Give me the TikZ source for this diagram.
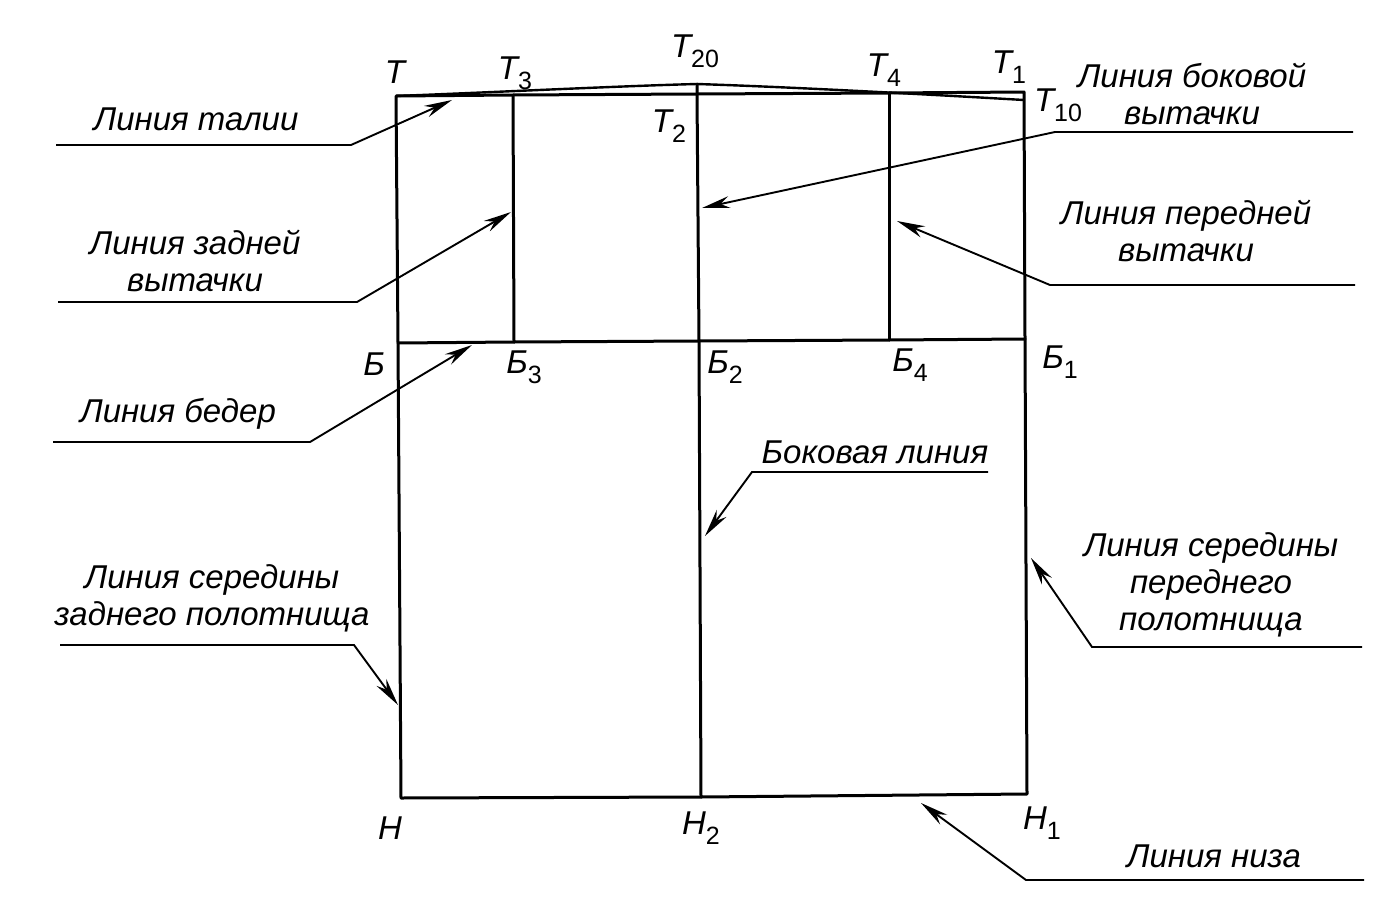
\documentclass[tikz,border=0pt]{standalone}
\usepackage{fontspec}
\setmainfont{Liberation Sans}
\usetikzlibrary{arrows.meta}
\newcommand\sbs[1]{\raisebox{-0.3em}{\fontsize{25}{25}\selectfont\upshape #1}}
\begin{document}
\begin{tikzpicture}[x=1pt,y=-1pt,
 lab/.style={font=\fontsize{33}{37}\selectfont\itshape,align=center,inner sep=0pt,text=black},
 pt/.style={font=\fontsize{33}{37}\selectfont\itshape,inner sep=0pt,text=black},
 frame/.style={line width=3pt,line cap=round,line join=round},
 lead/.style={line width=1.9pt},
 arr/.style={lead,-{Stealth[length=28pt,width=12pt]}}]
\useasboundingbox (0,0) rectangle (1384,918);
% corners
\coordinate (T) at (396,96);\coordinate (T3) at (513,95);\coordinate (T2) at (697,94);\coordinate (T4) at (889,93);\coordinate (T1) at (1024,92);\coordinate (T10) at (1024,100);
\coordinate (T20) at (697,84);
\coordinate (B) at (398,343);\coordinate (B3) at (514,342);\coordinate (B2) at (699,341);\coordinate (B4) at (889,340);\coordinate (B1) at (1025,339);
\coordinate (H) at (401,798);\coordinate (H2) at (701,797);\coordinate (H1) at (1027,794);
\draw[frame] (T) -- (B) -- (H) -- (H2) -- (H1) -- (B1) -- (T1) -- (T4) -- (T2) -- (T3) -- (T);
\draw[frame] (B) -- (B3) -- (B2) -- (B4) -- (B1);
\draw[frame] (T3) -- (B3);
\draw[frame] (T20) -- (T2) -- (B2) -- (H2);
\draw[frame] (T4) -- (B4);
\draw[line width=2.4pt] (T) .. controls (500,92) and (620,86) .. (T20) .. controls (790,87) and (920,94) .. (T10);
% point labels
\node[pt] (lT) at (395,72) {Т};
\node[pt] (lT3) at (515,73) {Т\sbs{3}};
\node[pt] (lT20) at (695,51) {Т\sbs{20}};
\node[pt] (lT4) at (884,70) {Т\sbs{4}};
\node[pt] (lT1) at (1009,67) {Т\sbs{1}};
\node[pt] (lT10) at (1058,105) {Т\sbs{10}};
\node[pt] (lT2) at (669,126) {Т\sbs{2}};
\node[pt] (lB) at (374,364) {Б};
\node[pt] (lB3) at (524,367) {Б\sbs{3}};
\node[pt] (lB2) at (725,367) {Б\sbs{2}};
\node[pt] (lB4) at (910,365) {Б\sbs{4}};
\node[pt] (lB1) at (1060,362) {Б\sbs{1}};
\node[pt] (lH) at (390,828) {Н};
\node[pt] (lH2) at (701,828) {Н\sbs{2}};
\node[pt] (lH1) at (1042,823) {Н\sbs{1}};
% labels
\node[lab] (a) at (196,119) {Линия талии};
\node[lab] (b) at (195,261) {Линия задней\\вытачки};
\node[lab] (c) at (178,414) {Линия бедер};
\node[lab] (d) at (212,598) {Линия середины\\заднего полотнища};
\node[lab] (e) at (1192,94) {Линия боковой\\вытачки};
\node[lab] (f) at (1186,231) {Линия передней\\вытачки};
\node[lab] (g) at (875,452) {Боковая линия};
\node[lab] (h) at (1211,585) {Линия середины\\переднего\\полотнища};
\node[lab] (i) at (1214,856) {Линия низа};
% leaders
\coordinate (a0) at (56,145);\coordinate (a1) at (351,145);\coordinate (a2) at (452,100);
\coordinate (b0) at (58,302);\coordinate (b1) at (357,302);\coordinate (b2) at (511,212);
\coordinate (c0) at (53,442);\coordinate (c1) at (310,442);\coordinate (c2) at (472,345);
\coordinate (d0) at (60,645);\coordinate (d1) at (354,645);\coordinate (d2) at (398,705);
\coordinate (e0) at (1353,132);\coordinate (e1) at (1055,132);\coordinate (e2) at (702,208);
\coordinate (f0) at (1355,285);\coordinate (f1) at (1050,285);\coordinate (f2) at (897,221);
\coordinate (g0) at (988,472);\coordinate (g1) at (752,472);\coordinate (g2) at (705,536);
\coordinate (h0) at (1362,647);\coordinate (h1) at (1092,647);\coordinate (h2) at (1031,558);
\coordinate (i0) at (1364,880);\coordinate (i1) at (1026,880);\coordinate (i2) at (921,803);
\foreach \n in {a,b,c,d,e,f,g,h,i}{\draw[arr] (\n0) -- (\n1) -- (\n2);}
\end{tikzpicture}
\end{document}
